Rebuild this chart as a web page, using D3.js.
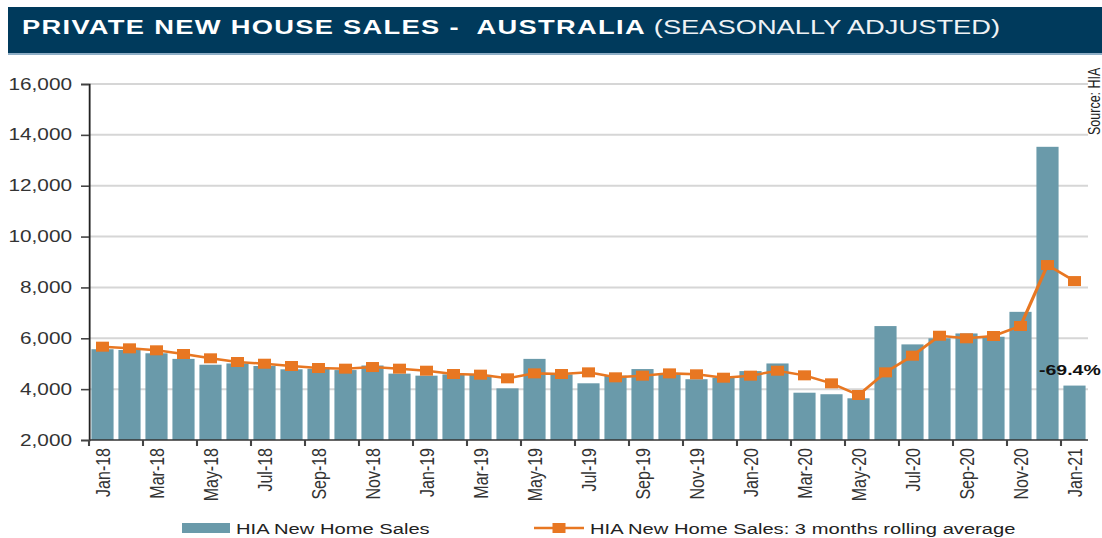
<!DOCTYPE html>
<html>
<head>
<meta charset="utf-8">
<script src="https://cdn.jsdelivr.net/npm/d3@7"></script>
<style>
body { margin: 0; background: #fff; }
svg { display: block; }
text { font-family: Arial, "Liberation Sans", sans-serif; }
</style>
</head>
<body>
<script>
// categories
const months = ["Jan-18","Feb-18","Mar-18","Apr-18","May-18","Jun-18","Jul-18","Aug-18","Sep-18","Oct-18","Nov-18","Dec-18",
    "Jan-19","Feb-19","Mar-19","Apr-19","May-19","Jun-19","Jul-19","Aug-19","Sep-19","Oct-19","Nov-19","Dec-19",
    "Jan-20","Feb-20","Mar-20","Apr-20","May-20","Jun-20","Jul-20","Aug-20","Sep-20","Oct-20","Nov-20","Dec-20",
    "Jan-21"];

// HIA New Home Sales (bars)
const sales = [5570,5540,5410,5190,4960,5010,4910,4780,4800,4750,4930,4610,
    4530,4580,4560,4030,5190,4580,4230,4530,4790,4560,4390,4450,
    4710,5010,3860,3800,3640,6480,5760,6000,6190,6060,7040,13530,
    4140];

// 3 months rolling average (line)
const rolling = [5670,5605,5527,5382,5212,5067,5000,4910,4831,4805,4870,4805,
    4725,4595,4570,4425,4620,4595,4660,4465,4530,4620,4583,4450,
    4530,4725,4543,4228,3770,4660,5315,6100,6000,6090,6483,8880,
    8250];

const yTicks = [2000,4000,6000,8000,10000,12000,14000,16000];
const changeLabel = "-69.4%";

const W = 1102, H = 538;
const SX = 1.3;   // the original picture is stretched sideways, so draw narrow and stretch
const sx = v => v / SX;

const svg = d3.select("body").append("svg")
    .attr("width", W)
    .attr("height", H)
    .attr("viewBox", `0 0 ${W / SX} ${H}`)
    .attr("preserveAspectRatio", "none");

// title bar
svg.append("rect")
    .attr("x", sx(8)).attr("y", 7)
    .attr("width", sx(W - 8)).attr("height", 46)
    .attr("fill", "#003a5c");
svg.append("rect")
    .attr("x", sx(8)).attr("y", 53)
    .attr("width", sx(W - 8)).attr("height", 2)
    .attr("fill", "#8eaec6");

const title = svg.append("text")
    .attr("x", sx(22)).attr("y", 34)
    .attr("font-size", 21)
    .attr("fill", "#fff")
    .style("white-space", "pre");
title.append("tspan")
    .attr("font-weight", "bold")
    .attr("letter-spacing", 1)
    .text("PRIVATE NEW HOUSE SALES -  AUSTRALIA ");
title.append("tspan")
    .attr("font-weight", "normal")
    .attr("fill", "#eef2f5")
    .text("(SEASONALLY ADJUSTED)");

// scales
const x = d3.scaleBand()
    .domain(months)
    .range([sx(89), sx(1088)])
    .paddingInner(0.18)
    .paddingOuter(0.09);

const y = d3.scaleLinear()
    .domain([2000, 16000])
    .range([440, 84]);

// gridlines
svg.append("g")
    .selectAll("line")
    .data(yTicks.filter(d => d > 2000))
    .enter()
    .append("line")
    .attr("x1", sx(89)).attr("x2", sx(1088))
    .attr("y1", d => y(d)).attr("y2", d => y(d))
    .attr("stroke", "#d6d6d6")
    .attr("stroke-width", 2);

// bars
svg.append("g")
    .selectAll("rect")
    .data(sales)
    .enter()
    .append("rect")
    .attr("x", (d, i) => x(months[i]))
    .attr("y", d => y(d))
    .attr("width", x.bandwidth())
    .attr("height", d => y(2000) - y(d))
    .attr("fill", "#6a9aaa");

// y axis
const yAxis = svg.append("g")
    .attr("transform", `translate(${sx(89)},0)`)
    .call(d3.axisLeft(y).tickValues(yTicks).tickFormat(d3.format(",")).tickSize(sx(8)).tickPadding(sx(9)));
yAxis.select(".domain").attr("stroke", "#222").attr("stroke-width", 1.4);
yAxis.selectAll(".tick line").attr("stroke", "#444").attr("stroke-width", 1.6);
yAxis.selectAll("text")
    .attr("font-size", 16)
    .attr("font-family", "Arial, 'Liberation Sans', sans-serif")
    .attr("fill", "#333");

// x axis: ticks between every second month, labels centred on months
const xAxis = svg.append("g")
    .attr("transform", "translate(0,440)");
xAxis.append("line")
    .attr("x1", sx(89)).attr("x2", sx(1088))
    .attr("stroke", "#333").attr("stroke-width", 1.6);
xAxis.selectAll(".xtick")
    .data(months.filter((d, i) => i % 2 === 0))
    .enter()
    .append("line")
    .attr("class", "xtick")
    .attr("x1", d => x(d) - x.step() * x.paddingInner() / 2)
    .attr("x2", d => x(d) - x.step() * x.paddingInner() / 2)
    .attr("y1", 0).attr("y2", 6)
    .attr("stroke", "#444").attr("stroke-width", 1.6);
xAxis.selectAll(".xlabel")
    .data(months.filter((d, i) => i % 2 === 0))
    .enter()
    .append("text")
    .attr("class", "xlabel")
    .attr("transform", d => `translate(${x(d) + x.bandwidth() / 2},8) rotate(-90)`)
    .attr("text-anchor", "end")
    .attr("dy", "0.35em")
    .attr("font-size", 16)
    .attr("fill", "#333")
    .text(d => d);

// rolling average line + square markers
const line = d3.line()
    .x((d, i) => x(months[i]) + x.bandwidth() / 2)
    .y(d => y(d));

svg.append("path")
    .datum(rolling)
    .attr("d", line)
    .attr("fill", "none")
    .attr("stroke", "#e87722")
    .attr("stroke-width", 2.5);

svg.append("g")
    .selectAll("rect")
    .data(rolling)
    .enter()
    .append("rect")
    .attr("x", (d, i) => x(months[i]) + x.bandwidth() / 2 - 5)
    .attr("y", d => y(d) - 5)
    .attr("width", 10)
    .attr("height", 10)
    .attr("fill", "#e87722");

// annotation for the last month
svg.append("text")
    .attr("x", sx(1039)).attr("y", 375)
    .attr("font-size", 15)
    .attr("font-weight", "bold")
    .attr("fill", "#111")
    .text(changeLabel);

// source note at the right edge
svg.append("text")
    .attr("transform", `translate(${sx(1100)},135) rotate(-90)`)
    .attr("font-size", 12.5)
    .attr("fill", "#222")
    .text("Source: HIA");

// legend
svg.append("rect")
    .attr("x", sx(182)).attr("y", 523)
    .attr("width", sx(48)).attr("height", 10)
    .attr("fill", "#6a9aaa");
svg.append("text")
    .attr("x", sx(236)).attr("y", 534)
    .attr("font-size", 15.5)
    .attr("fill", "#222")
    .text("HIA New Home Sales");

svg.append("line")
    .attr("x1", sx(534)).attr("x2", sx(584))
    .attr("y1", 528).attr("y2", 528)
    .attr("stroke", "#e87722").attr("stroke-width", 2.5);
svg.append("rect")
    .attr("x", sx(559) - 5).attr("y", 523)
    .attr("width", 10).attr("height", 10)
    .attr("fill", "#e87722");
svg.append("text")
    .attr("x", sx(590)).attr("y", 534)
    .attr("font-size", 15.5)
    .attr("fill", "#222")
    .text("HIA New Home Sales: 3 months rolling average");
</script>
</body>
</html>
